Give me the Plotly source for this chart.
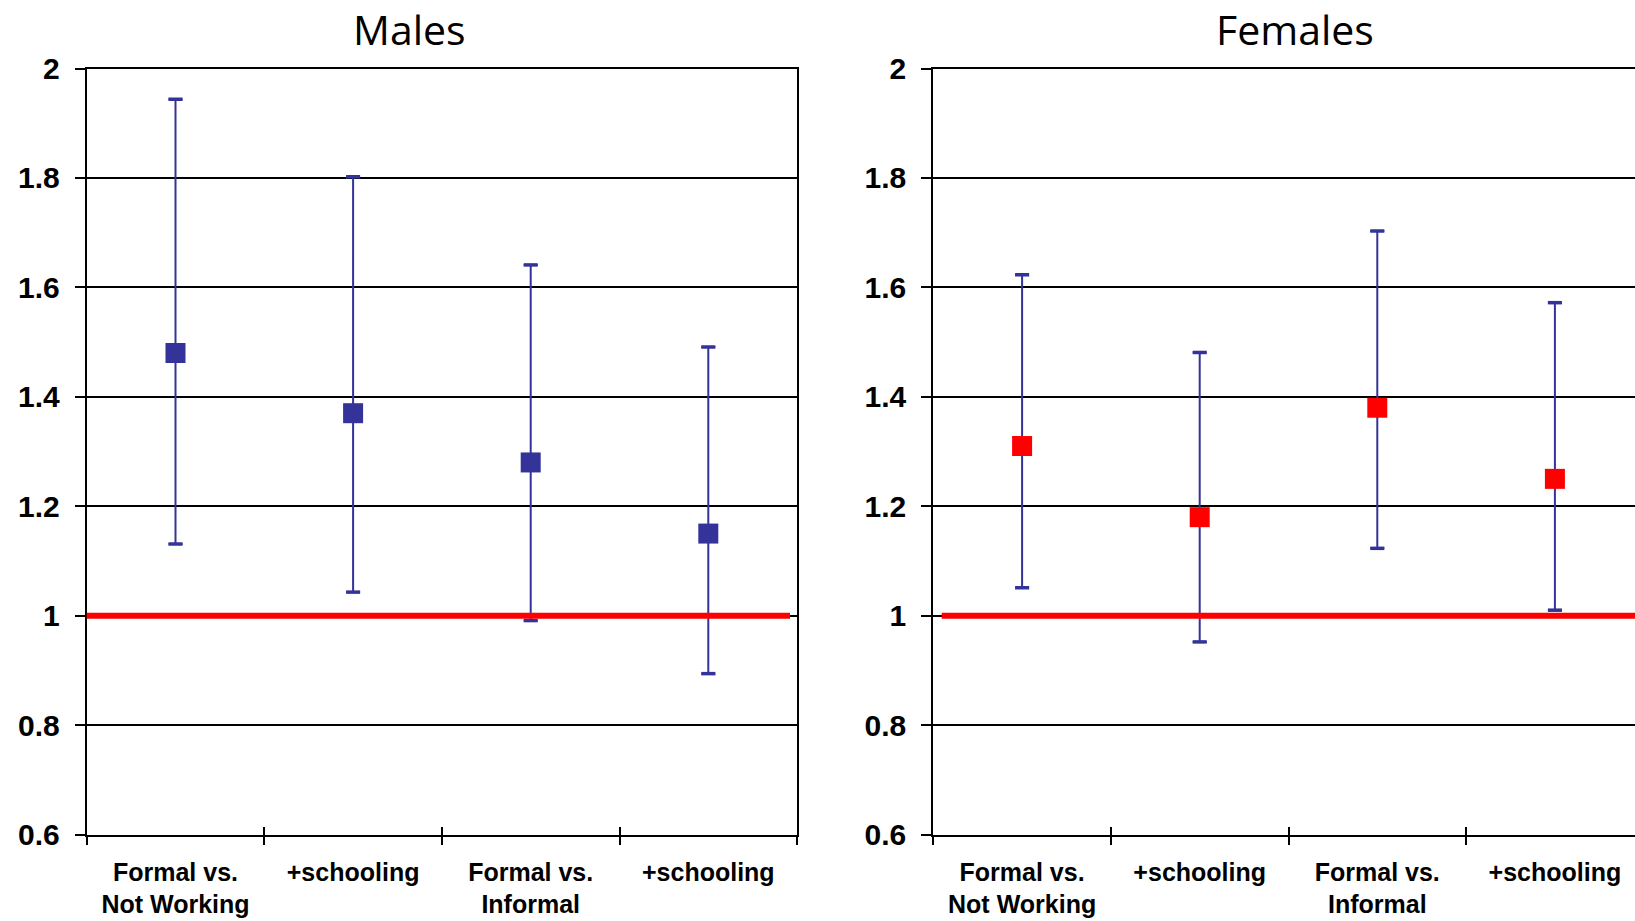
import plotly.graph_objects as go

# ---- data ----
categories = ["Formal vs.<br>Not Working", "+schooling", "Formal vs.<br>Informal", "+schooling"]
cat_pos = [1, 2, 3, 4]
boundaries = [0.5, 1.5, 2.5, 3.5, 4.5]

males_est = [1.48, 1.37, 1.28, 1.15]
males_hi = [1.944, 1.802, 1.641, 1.491]
males_lo = [1.131, 1.043, 0.991, 0.894]

females_est = [1.31, 1.18, 1.38, 1.25]
females_hi = [1.623, 1.481, 1.703, 1.572]
females_lo = [1.051, 0.952, 1.123, 1.010]

ref_value = 1.0
y_ticks = [0.6, 0.8, 1.0, 1.2, 1.4, 1.6, 1.8, 2.0]
titles = ["Males", "Females"]

# ---- styles ----
W, H = 1635, 921
BLUE = "#333399"
RED = "#FF0000"
TICK_FONT = dict(family="Liberation Sans, Arial", size=30, color="black", weight="bold")
XLAB_FONT = dict(family="Liberation Sans, Arial", size=25, color="black", weight="bold")
TITLE_FONT = dict(family="Open Sans", size=41, color="black")

fig = go.Figure()


def add_panel(est, hi, lo, color, xa, ya):
    # caps (drawn from the CI bounds)
    for vals in (hi, lo):
        fig.add_trace(go.Scatter(
            x=cat_pos, y=vals, mode="markers", xaxis=xa, yaxis=ya,
            marker=dict(symbol="line-ew", size=10, line=dict(width=3.5, color=BLUE)),
            showlegend=False, hoverinfo="skip"))
    fig.add_trace(go.Scatter(
        x=cat_pos, y=est, mode="markers", xaxis=xa, yaxis=ya,
        marker=dict(symbol="square", size=20, color=color, line=dict(width=0)),
        error_y=dict(type="data", symmetric=False,
                     array=[h - e for h, e in zip(hi, est)],
                     arrayminus=[e - l for e, l in zip(est, lo)],
                     color=BLUE, thickness=2, width=7),
        showlegend=False))


add_panel(males_est, males_hi, males_lo, BLUE, "x", "y")
add_panel(females_est, females_hi, females_lo, RED, "x2", "y2")
# dummy traces for inside-tick overlay axes
fig.add_trace(go.Scatter(x=[None], y=[None], xaxis="x3", yaxis="y", showlegend=False, hoverinfo="skip"))
fig.add_trace(go.Scatter(x=[None], y=[None], xaxis="x4", yaxis="y2", showlegend=False, hoverinfo="skip"))

ydom = [1 - 834.5 / H, 1 - 68.5 / H]
x1dom = [86.7 / W, 797.1 / W]
x2dom = [933.3 / W, 1.0]
x1range = [0.5, 4.5]
x2range = [0.5, 0.5 + (W - 933.3) / 177.6]

common_x = dict(
    tickmode="array", tickvals=cat_pos, ticktext=categories, ticks="",
    tickfont=XLAB_FONT, showgrid=False, zeroline=False,
    showline=True, linecolor="black", linewidth=2, mirror=True,
    minor=dict(tickmode="array", tickvals=boundaries, ticks="outside", ticklen=8,
               tickwidth=2, tickcolor="black", showgrid=False),
    ticklabelstandoff=14, automargin=False, fixedrange=True,
)
common_y = dict(
    range=[0.6, 2.0], tickmode="array", tickvals=y_ticks, ticks="outside",
    ticklen=10, tickwidth=2, tickcolor="black", tickfont=TICK_FONT,
    showgrid=True, gridcolor="black", gridwidth=2, zeroline=False,
    showline=True, linecolor="black", linewidth=2,
    ticklabelstandoff=9, automargin=False, fixedrange=True,
)
overlay_x = dict(tickmode="array", tickvals=boundaries, ticks="inside", ticklen=8,
                 tickwidth=2, tickcolor="black", showticklabels=False,
                 showgrid=False, zeroline=False, showline=False, fixedrange=True)

fig.update_layout(
    width=W, height=H,
    margin=dict(l=0, r=0, t=0, b=0),
    paper_bgcolor="white", plot_bgcolor="white",
    xaxis=dict(common_x, domain=x1dom, range=x1range, anchor="y"),
    yaxis=dict(common_y, domain=ydom, anchor="x", mirror=True),
    xaxis2=dict(common_x, domain=x2dom, range=x2range, anchor="y2"),
    yaxis2=dict(common_y, domain=ydom, anchor="x2", mirror=False),
    xaxis3=dict(overlay_x, overlaying="x", anchor="y", range=x1range, domain=x1dom),
    xaxis4=dict(overlay_x, overlaying="x2", anchor="y2", range=x2range, domain=x2dom),
    showlegend=False,
)

# reference line at 1
fig.add_shape(type="line", xref="x domain", yref="y", x0=0, x1=0.99,
              y0=ref_value, y1=ref_value, line=dict(color=RED, width=6), layer="above")
fig.add_shape(type="line", xref="x2 domain", yref="y2", x0=0.012, x1=1,
              y0=ref_value, y1=ref_value, line=dict(color=RED, width=6), layer="above")

# panel titles
for t, xc in zip(titles, [410, 1295]):
    fig.add_annotation(text=t, xref="paper", yref="paper", x=xc / W, y=1,
                       xanchor="center", yanchor="top", showarrow=False,
                       font=TITLE_FONT, borderpad=0)

fig.write_html("out.html")
